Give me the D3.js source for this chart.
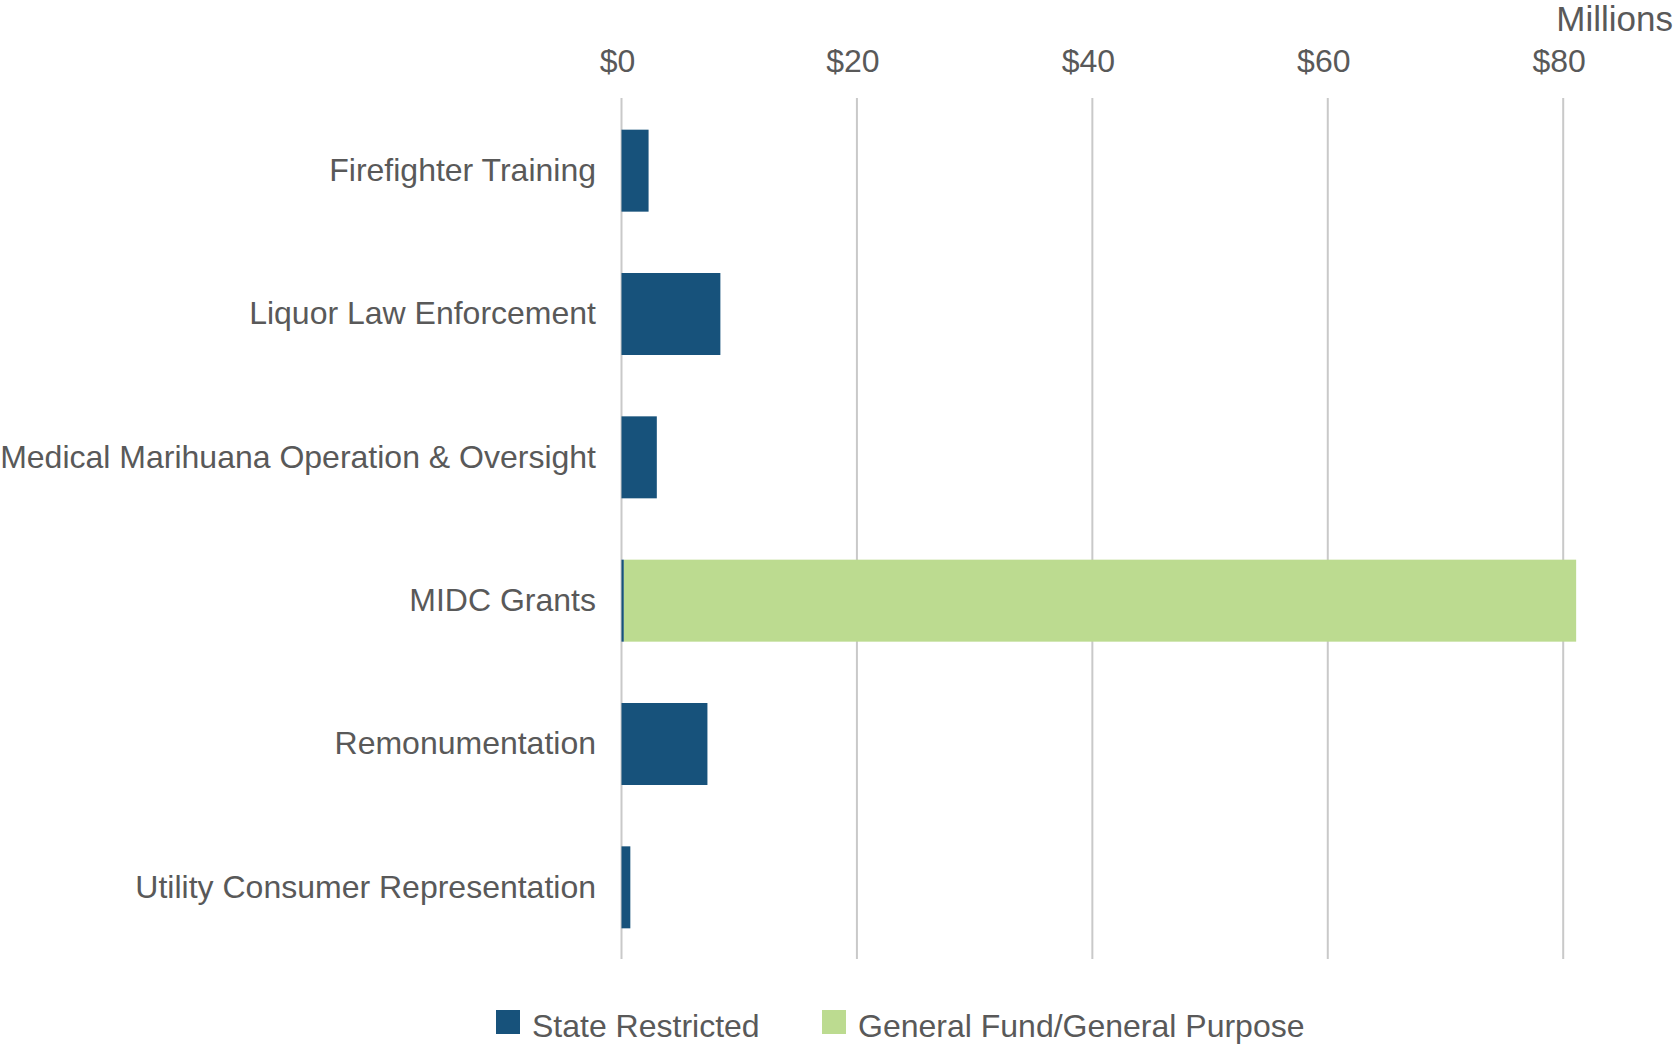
<!DOCTYPE html>
<html lang="en">
<head>
  <meta charset="UTF-8">
  <title>Appropriations by Fund Source</title>
  <script src="https://d3js.org/d3.v7.min.js"></script>
  <style>
    body {
      margin: 0;
      background-color: #ffffff;
      font-family: "Liberation Sans", Arial, sans-serif;
    }
    .label, .tick-label, .legend-text, .unit {
      fill: #595959;
      font-size: 32px;
    }
    .unit {
      font-size: 35px;
    }
    .grid line {
      stroke: #c9c9c9;
      stroke-width: 2;
    }
  </style>
</head>
<body>
  <script>
    // Données (millions de dollars)
    var categories = [
      "Firefighter Training",
      "Liquor Law Enforcement",
      "Medical Marihuana Operation & Oversight",
      "MIDC Grants",
      "Remonumentation",
      "Utility Consumer Representation"
    ];
    var stateRestricted = [2.3, 8.4, 3.0, 0.2, 7.3, 0.75];
    var generalFund = [0, 0, 0, 80.9, 0, 0];
    var tickValues = [0, 20, 40, 60, 80];
    var seriesNames = ["State Restricted", "General Fund/General Purpose"];
    var colors = ["#17527b", "#bcdb90"];

    var width = 1675, height = 1048;
    var margin = { top: 99, right: 40, bottom: 89, left: 621.5 };
    var innerW = 1563.2 - margin.left;

    var svg = d3.select("body")
                .append("svg")
                .attr("width", width)
                .attr("height", height);

    var x = d3.scaleLinear().domain([0, 80]).range([margin.left, margin.left + innerW]);
    var y = d3.scaleBand()
              .domain(categories)
              .range([margin.top, height - margin.bottom])
              .paddingInner(0.428)
              .paddingOuter(0.214);

    var data = categories.map(function(c, i) {
      return { cat: c, sr: stateRestricted[i], gf: generalFund[i] };
    });

    // Lignes de grille verticales
    svg.append("g")
       .attr("class", "grid")
       .selectAll("line")
       .data(tickValues)
       .enter()
       .append("line")
       .attr("x1", d => x(d))
       .attr("x2", d => x(d))
       .attr("y1", margin.top - 1)
       .attr("y2", height - margin.bottom);

    // Étiquettes de l'axe (en haut)
    svg.append("g")
       .selectAll("text")
       .data(tickValues)
       .enter()
       .append("text")
       .attr("class", "tick-label")
       .attr("x", d => x(d) - 4)
       .attr("y", 72)
       .attr("text-anchor", "middle")
       .text(d => "$" + d);

    svg.append("text")
       .attr("class", "unit")
       .attr("x", 1673)
       .attr("y", 31)
       .attr("text-anchor", "end")
       .text("Millions");

    // Barres empilées
    var stack = d3.stack().keys(["sr", "gf"])(data);
    svg.selectAll(".series")
       .data(stack)
       .enter()
       .append("g")
       .attr("fill", (d, i) => colors[i])
       .selectAll("rect")
       .data(d => d)
       .enter()
       .append("rect")
       .attr("x", d => x(d[0]))
       .attr("width", d => x(d[1]) - x(d[0]))
       .attr("y", d => y(d.data.cat))
       .attr("height", y.bandwidth());

    // Catégories
    svg.append("g")
       .selectAll("text")
       .data(categories)
       .enter()
       .append("text")
       .attr("class", "label")
       .attr("x", margin.left - 25.5)
       .attr("y", d => y(d) + y.bandwidth() / 2 - 1)
       .attr("dy", "0.35em")
       .attr("text-anchor", "end")
       .text(d => d);

    // Légende
    var legendX = [496, 822];
    var legend = svg.append("g")
                    .selectAll("g")
                    .data(seriesNames)
                    .enter()
                    .append("g")
                    .attr("transform", (d, i) => `translate(${legendX[i]},1010)`);
    legend.append("rect")
          .attr("width", 24)
          .attr("height", 24)
          .attr("fill", (d, i) => colors[i]);
    legend.append("text")
          .attr("class", "legend-text")
          .attr("x", 36)
          .attr("y", 27)
          .text(d => d);
  </script>
</body>
</html>
